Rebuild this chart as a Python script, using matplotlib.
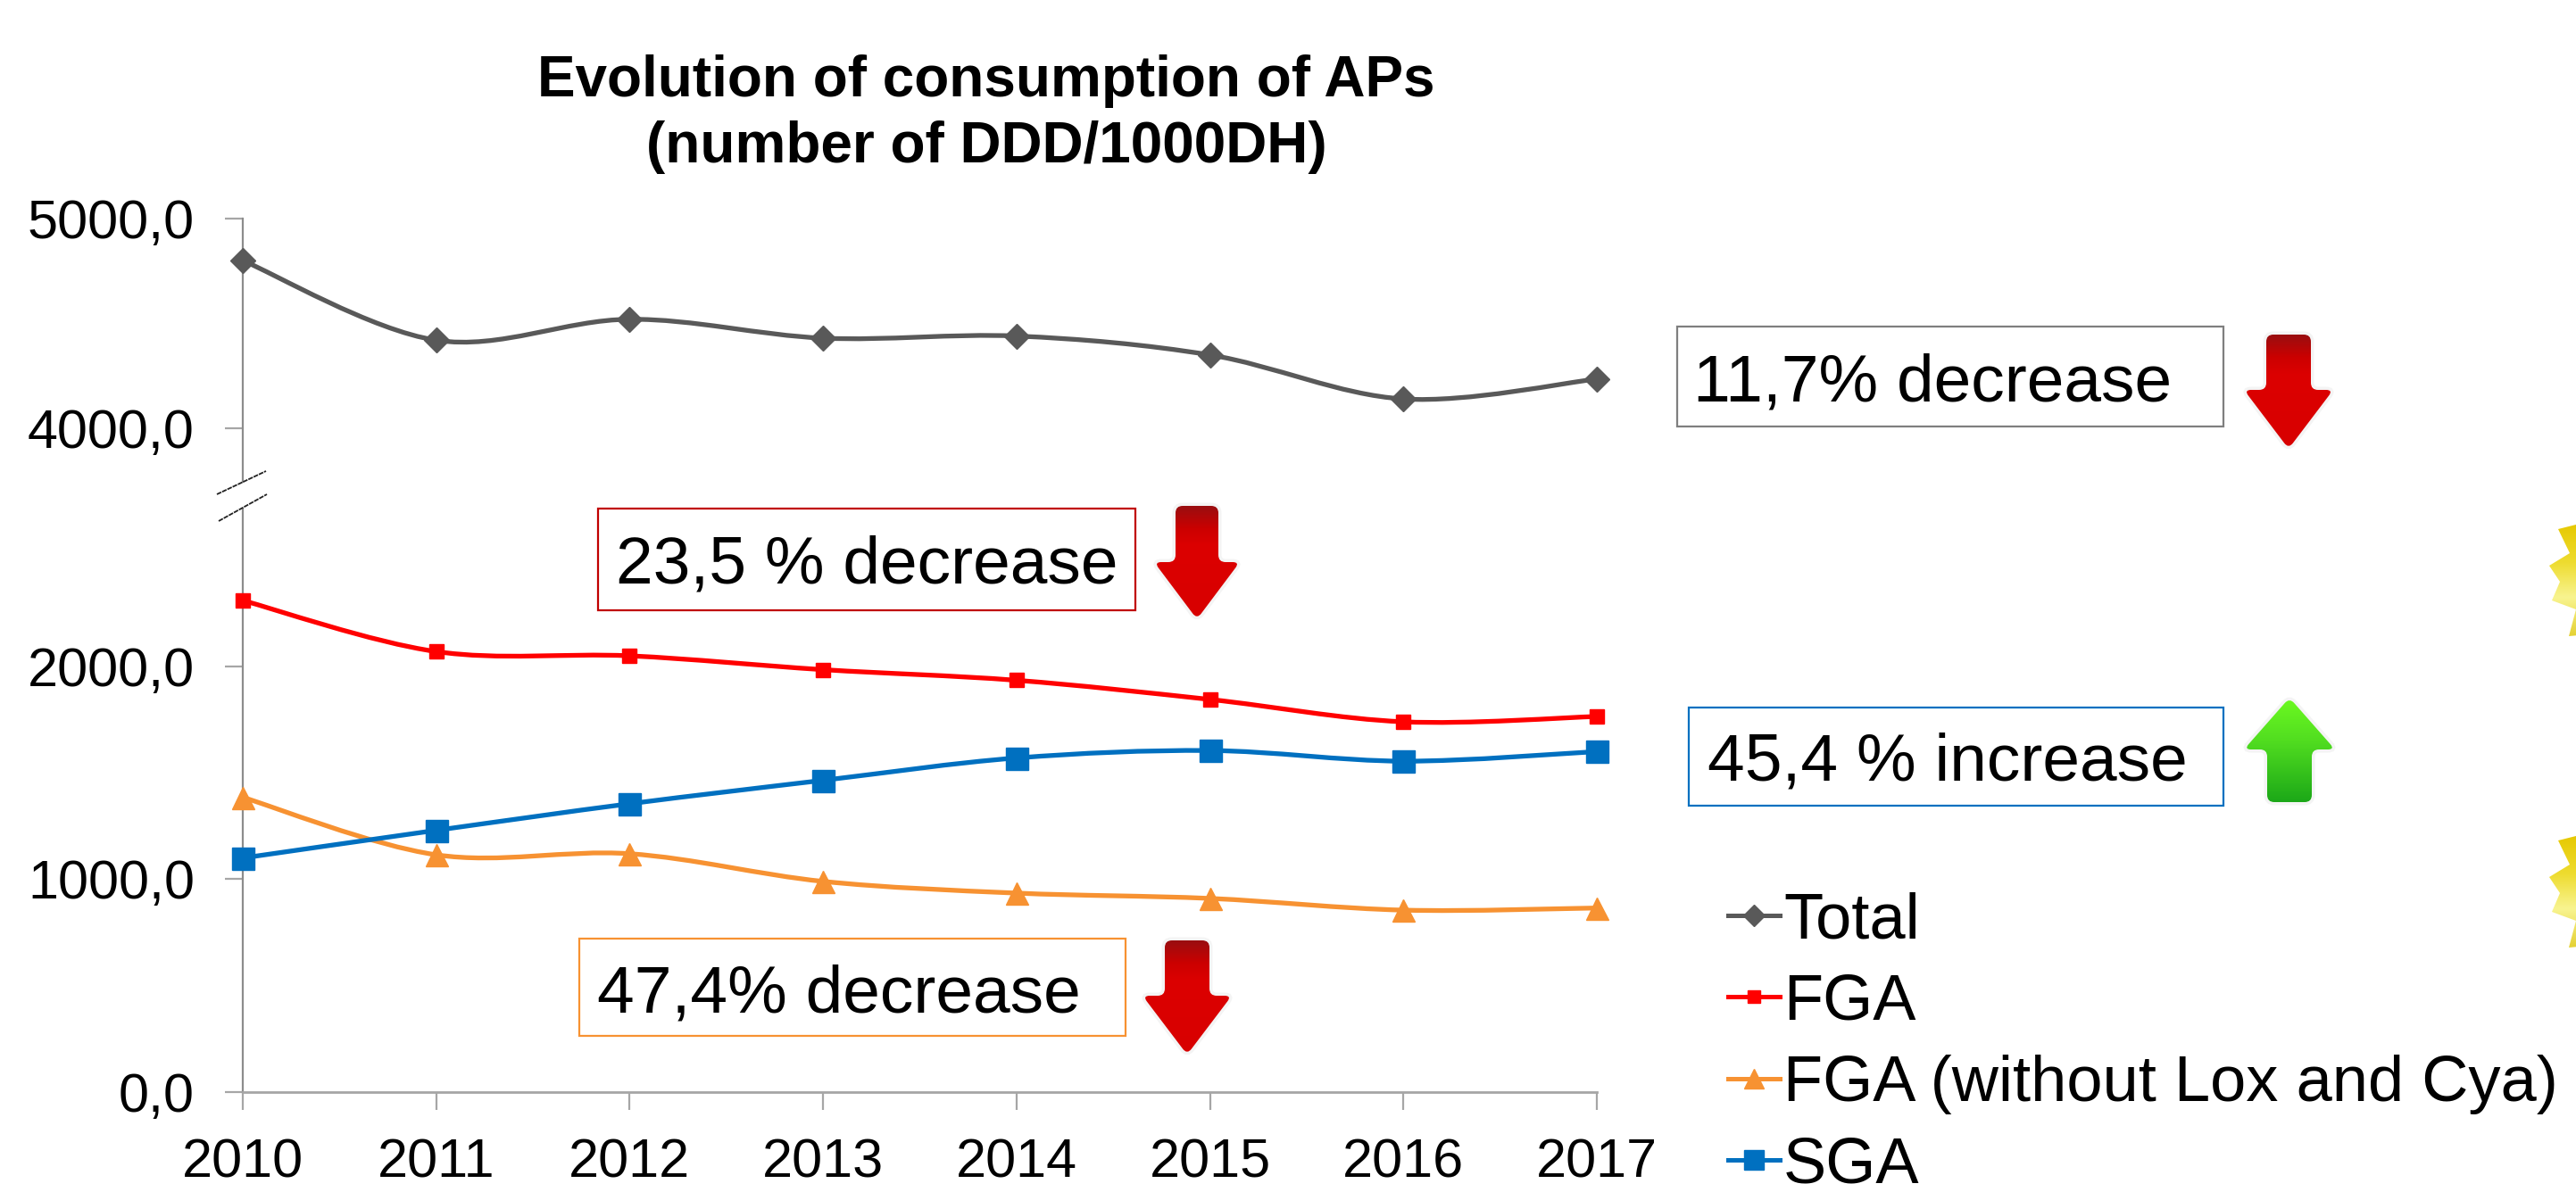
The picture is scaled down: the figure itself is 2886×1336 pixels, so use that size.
import numpy as np
import matplotlib
matplotlib.use("Agg")
import matplotlib.pyplot as plt
from matplotlib.path import Path
from matplotlib.patches import PathPatch, Rectangle
from matplotlib.lines import Line2D

years = [2010, 2011, 2012, 2013, 2014, 2015, 2016, 2017]
total = [4800, 4420, 4520, 4430, 4440, 4350, 4140, 4235]
fga = [2310, 2070, 2050, 1985, 1935, 1845, 1740, 1765]
fga_wo = [1385, 1115, 1120, 990, 935, 910, 855, 865]
sga = [1100, 1230, 1355, 1465, 1570, 1605, 1555, 1600]
labels = ["Total", "FGA", "FGA (without Lox and Cya)", "SGA"]
upper_ticks = [4000, 5000]
lower_ticks = [0, 1000, 2000]
title = "Evolution of consumption of APs\n(number of DDD/1000DH)"

W, H = 2886, 1336
plt.rcParams["font.family"] = ["Liberation Sans", "DejaVu Sans"]
fig = plt.figure(figsize=(W / 100, H / 100), dpi=100, facecolor="white")


def make_axes(x0, x1, ytop, ybot):
    return fig.add_axes([x0 / W, 1 - ybot / H, (x1 - x0) / W, (ybot - ytop) / H], facecolor="none")


AX_L, AX_R = 272, 1789
ax_up = make_axes(AX_L, AX_R, 245, 540)
ax_lo = make_axes(AX_L, AX_R, 570, 1224)
ax_up.set_ylim(3745, 5000)
ax_lo.set_ylim(0, 2742)
GREY = "#8C8C8C"
LIGHT = "#A6A6A6"


def smooth(ax, xs, ys, color, lw):
    xs, ys = np.asarray(xs, float), np.asarray(ys, float)
    verts = [(xs[0], ys[0])]
    codes = [Path.MOVETO]
    n = len(xs)
    for i in range(n - 1):
        a, b = max(i - 1, 0), min(i + 2, n - 1)
        c1 = (xs[i] + (xs[i + 1] - xs[a]) / 6, ys[i] + (ys[i + 1] - ys[a]) / 6)
        c2 = (xs[i + 1] - (xs[b] - xs[i]) / 6, ys[i + 1] - (ys[b] - ys[i]) / 6)
        verts += [c1, c2, (xs[i + 1], ys[i + 1])]
        codes += [Path.CURVE4] * 3
    ax.add_patch(PathPatch(Path(verts, codes), fill=False, edgecolor=color, lw=lw, zorder=3, clip_on=False))


series = [
    (ax_up, total, "#595959", "D", 14),
    (ax_lo, fga, "#FF0000", "s", 12),
    (ax_lo, fga_wo, "#F79232", "^", 18),
    (ax_lo, sga, "#0070C0", "s", 18),
]
handles = []
for (ax, vals, col, mk, ms), lab in zip(series, labels):
    smooth(ax, years, vals, col, 3.8)
    ax.plot(years, vals, ls="none", marker=mk, ms=ms, color=col, mec=col, zorder=4, clip_on=False)
    handles.append(Line2D([], [], color=col, lw=3.6, marker=mk, ms=ms * 0.85, mec=col, label=lab))

for ax, ticks in ((ax_up, upper_ticks), (ax_lo, lower_ticks)):
    ax.set_xlim(years[0], years[-1])
    ax.set_yticks(ticks)
    ax.set_yticklabels([f"{t:.1f}".replace(".", ",") for t in ticks], fontsize=44, color="black")
    for s in ("top", "right"):
        ax.spines[s].set_visible(False)
    ax.spines["left"].set_color(GREY)
    ax.spines["left"].set_linewidth(1.6)
    ax.tick_params(axis="y", length=14.4, width=1.6, color=LIGHT, pad=24.5)
ax_up.spines["bottom"].set_visible(False)
ax_up.set_xticks([])
ax_lo.spines["bottom"].set_color(LIGHT)
ax_lo.spines["bottom"].set_linewidth(2)
ax_lo.set_xticks(years)
ax_lo.set_xticklabels([str(y) for y in years], fontsize=44)
ax_lo.tick_params(axis="x", length=14.4, width=1.6, color=LIGHT, pad=23)

# overlay in reference pixel coordinates for the annotations
ov = fig.add_axes([0, 0, 1, 1], facecolor="none", zorder=5)
ov.set_xlim(0, W)
ov.set_ylim(H, 0)
ov.axis("off")
ov.text(1105, 128, title, ha="center", va="center", fontsize=46, fontweight="bold", linespacing=1.3)

ov.plot((243, 298), (554, 528), color="#222222", lw=1.3, ls=(0, (3, 0.6)))
ov.plot((245, 299), (584, 554), color="#222222", lw=1.3, ls=(0, (3, 0.6)))

boxes = [
    (1879, 2491, 366, 478, "#7F7F7F", "11,7% decrease", 1897, 430),
    (670, 1272, 570, 684, "#C00000", "23,5 % decrease", 690, 634),
    (649, 1261, 1052, 1161, "#F79232", "47,4% decrease", 669, 1115),
    (1892, 2491, 793, 903, "#0070C0", "45,4 % increase", 1913, 855),
]
for x0, x1, y0, y1, ec, txt, tx, ty in boxes:
    ov.add_patch(Rectangle((x0, y0), x1 - x0, y1 - y0, fc="white", ec=ec, lw=1.6))
    ov.text(tx, ty, txt, fontsize=54, ha="left", va="center", color="black")


def rounded(points, r):
    verts, codes = [], []
    n = len(points)
    for i, p in enumerate(points):
        p = np.array(p, float)
        a = np.array(points[i - 1], float)
        b = np.array(points[(i + 1) % n], float)
        d1 = (a - p) / np.linalg.norm(a - p)
        d2 = (b - p) / np.linalg.norm(b - p)
        verts += [tuple(p + d1 * r), tuple(p), tuple(p + d2 * r)]
        codes += [Path.MOVETO if i == 0 else Path.LINETO, Path.CURVE3, Path.CURVE3]
    verts.append(verts[0])
    codes.append(Path.CLOSEPOLY)
    return Path(verts, codes)


def gradient_fill(path, x0, x1, ytop, ybot, stops):
    pos = [s[0] for s in stops]
    rgb = np.array([matplotlib.colors.to_rgb(s[1]) for s in stops])
    t = np.linspace(0, 1, 128)
    img = np.stack([np.interp(t, pos, rgb[:, k]) for k in range(3)], axis=1)[:, None, :]
    im = ov.imshow(img, extent=(x0, x1, ybot, ytop), origin="upper", aspect="auto",
                   interpolation="bilinear", zorder=3)
    im.set_clip_path(PathPatch(path, transform=ov.transData))
    ov.set_xlim(0, W)
    ov.set_ylim(H, 0)


def arrow(cx, top, shoulder, tip, half_shaft, half_head, stops, up=False):
    if up:
        pts = [(cx, top), (cx + half_head, shoulder), (cx + half_shaft, shoulder), (cx + half_shaft, tip),
               (cx - half_shaft, tip), (cx - half_shaft, shoulder), (cx - half_head, shoulder)]
    else:
        pts = [(cx - half_shaft, top), (cx + half_shaft, top), (cx + half_shaft, shoulder), (cx + half_head, shoulder),
               (cx, tip), (cx - half_head, shoulder), (cx - half_shaft, shoulder)]
    path = rounded(pts, 8)
    ov.add_patch(PathPatch(path, fc="#F4F4F4", ec="#F4F4F4", lw=5, zorder=2))
    ytop, ybot = min(top, tip), max(top, tip)
    gradient_fill(path, cx - half_head - 2, cx + half_head + 2, ytop, ybot, stops)


RED = [(0, "#9A0E10"), (0.2, "#CC0000"), (0.35, "#DC0000"), (1, "#D80000")]
GREEN = [(0, "#6CFA20"), (0.4, "#52DE20"), (1, "#1CA818")]
arrow(2564, 375, 437, 503, 25, 50, RED)
arrow(1341, 567, 630, 694, 24, 48, RED)
arrow(1330, 1054, 1116, 1182, 25, 50, RED)
arrow(2565, 782, 840, 899, 25, 51, GREEN, up=True)

# gold star badges, cut by the right edge of the picture
STAR_X = [2900, 2886, 2866, 2879, 2856, 2868, 2859, 2886, 2878, 2900]
STAR_DY = [-50, -49, -44, -17, -3, 15, 36, 46, 76, 74]
GOLD = [(0, "#E6C800"), (0.35, "#EEDC30"), (0.65, "#F8F490"), (1, "#E4D030")]
for cy in (637, 986):
    verts = [(x, cy + d) for x, d in zip(STAR_X, STAR_DY)]
    star = Path(verts + [verts[0]], [Path.MOVETO] + [Path.LINETO] * (len(verts) - 1) + [Path.CLOSEPOLY])
    gradient_fill(star, 2850, 2890, cy - 52, cy + 78, GOLD)

fig.legend(handles=handles, loc="upper left", bbox_to_anchor=(1936 / W, 1 - 999 / H), frameon=False,
           fontsize=52, handlelength=0.8, handletextpad=0.06, labelspacing=0.34, borderpad=0, borderaxespad=0)

fig.savefig("out.png", dpi=100, facecolor="white")
